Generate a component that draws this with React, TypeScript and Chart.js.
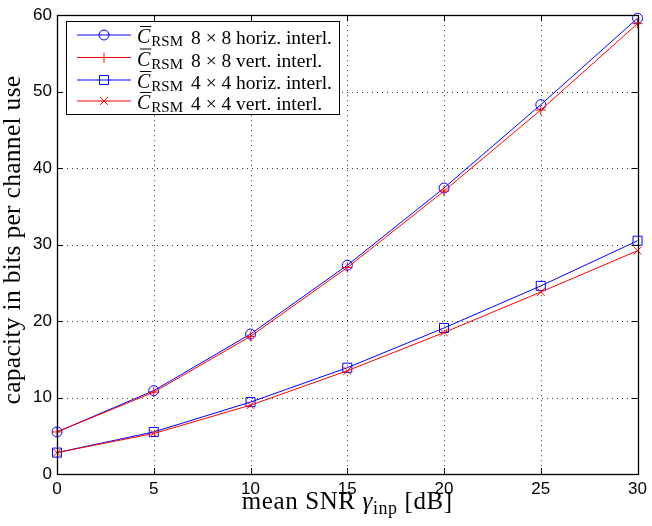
import React, { useEffect, useRef } from "react";
import { Chart, registerables } from "chart.js";

Chart.register(...registerables);

// ---- data ----
const snrDb = [0, 5, 10, 15, 20, 25, 30];
const rsm8Horiz = [5.5, 10.9, 18.3, 27.3, 37.4, 48.3, 59.6];
const rsm8Vert = [5.5, 10.7, 18.0, 27.0, 37.0, 47.6, 58.9];
const rsm4Horiz = [2.8, 5.5, 9.4, 13.9, 19.1, 24.6, 30.5];
const rsm4Vert = [2.8, 5.3, 9.0, 13.5, 18.5, 23.8, 29.2];
const xTicks = [0, 5, 10, 15, 20, 25, 30];
const yTicks = [0, 10, 20, 30, 40, 50, 60];
const legendTexts = [
  "8 × 8 horiz. interl.",
  "8 × 8 vert. interl.",
  "4 × 4 horiz. interl.",
  "4 × 4 vert. interl.",
];
const xTitleParts = ["mean SNR ", "γ", "inp", " [dB]"];
const yTitle = "capacity in bits per channel use";
const legendSymbol = "C";
const legendSub = "RSM";

const BLUE = "#0000ff";
const RED = "#ff0000";
const SERIF = '"Liberation Serif", "Times New Roman", serif';
const SANS = '"Liberation Sans", Arial, sans-serif';

type Marker = "circle" | "plus" | "square" | "x";

function drawMarker(ctx: CanvasRenderingContext2D, m: Marker, x: number, y: number, color: string) {
  ctx.save();
  ctx.strokeStyle = color;
  ctx.lineWidth = 1;
  ctx.beginPath();
  if (m === "circle") {
    ctx.arc(x, y, 5, 0, Math.PI * 2);
  } else if (m === "plus") {
    ctx.moveTo(x - 5, y);
    ctx.lineTo(x + 5, y);
    ctx.moveTo(x, y - 5);
    ctx.lineTo(x, y + 5);
  } else if (m === "square") {
    ctx.rect(x - 4.5, y - 4.5, 9, 9);
  } else {
    ctx.moveTo(x - 3.9, y - 3.9);
    ctx.lineTo(x + 3.9, y + 3.9);
    ctx.moveTo(x - 3.9, y + 3.9);
    ctx.lineTo(x + 3.9, y - 3.9);
  }
  ctx.stroke();
  ctx.restore();
}

const legendItems: { color: string; marker: Marker; text: string }[] = [
  { color: BLUE, marker: "circle", text: legendTexts[0] },
  { color: RED, marker: "plus", text: legendTexts[1] },
  { color: BLUE, marker: "square", text: legendTexts[2] },
  { color: RED, marker: "x", text: legendTexts[3] },
];

const decor = {
  id: "decor",
  beforeDatasetsDraw(chart: any) {
    const { ctx, chartArea: a, scales } = chart;
    ctx.save();
    ctx.strokeStyle = "#333";
    ctx.lineWidth = 1;
    ctx.setLineDash([1, 4]);
    for (const v of xTicks) {
      const px = Math.round(scales.x.getPixelForValue(v)) + 0.5;
      ctx.beginPath();
      ctx.moveTo(px, a.top);
      ctx.lineTo(px, a.bottom);
      ctx.stroke();
    }
    for (const v of yTicks) {
      const py = Math.round(scales.y.getPixelForValue(v)) + 0.5;
      ctx.beginPath();
      ctx.moveTo(a.left, py);
      ctx.lineTo(a.right, py);
      ctx.stroke();
    }
    ctx.restore();
  },
  afterDraw(chart: any) {
    const { ctx, chartArea: a, scales } = chart;
    ctx.save();
    // frame
    ctx.strokeStyle = "#000";
    ctx.lineWidth = 1.3;
    ctx.strokeRect(Math.round(a.left) + 0.5, Math.round(a.top) + 0.5, Math.round(a.right - a.left), Math.round(a.bottom - a.top));
    // inner ticks
    ctx.lineWidth = 1;
    for (const v of xTicks) {
      const px = Math.round(scales.x.getPixelForValue(v)) + 0.5;
      ctx.beginPath();
      ctx.moveTo(px, a.bottom);
      ctx.lineTo(px, a.bottom - 6);
      ctx.moveTo(px, a.top);
      ctx.lineTo(px, a.top + 6);
      ctx.stroke();
    }
    for (const v of yTicks) {
      const py = Math.round(scales.y.getPixelForValue(v)) + 0.5;
      ctx.beginPath();
      ctx.moveTo(a.left, py);
      ctx.lineTo(a.left + 6, py);
      ctx.moveTo(a.right, py);
      ctx.lineTo(a.right - 6, py);
      ctx.stroke();
    }

    // legend
    const mainFont = `19.5px ${SERIF}`;
    ctx.font = mainFont;
    const maxText = Math.max(...legendItems.map((it) => ctx.measureText(it.text).width));
    const textX = 191;
    const bx = 66.5, by = 21.5, bh = 93;
    const bw = Math.round(textX + maxText + 8 - bx);
    ctx.fillStyle = "#fff";
    ctx.fillRect(bx, by, bw, bh);
    ctx.strokeStyle = "#000";
    ctx.lineWidth = 1;
    ctx.strokeRect(bx, by, bw, bh);
    const rows = [35, 57.5, 80, 101];
    legendItems.forEach((it, i) => {
      const y = rows[i];
      ctx.strokeStyle = it.color;
      ctx.lineWidth = 1;
      ctx.beginPath();
      ctx.moveTo(77, y);
      ctx.lineTo(131, y);
      ctx.stroke();
      drawMarker(ctx, it.marker, 104, y, it.color);
      const base = y + 9;
      let x = 137;
      ctx.fillStyle = "#000";
      ctx.textBaseline = "alphabetic";
      ctx.textAlign = "left";
      ctx.font = `italic 20px ${SERIF}`;
      ctx.fillText(legendSymbol, x, base - 1);
      const cw = ctx.measureText(legendSymbol).width;
      // bar over C
      ctx.strokeStyle = "#000";
      ctx.lineWidth = 1;
      ctx.beginPath();
      ctx.moveTo(x + 3, base - 17.5);
      ctx.lineTo(x + cw + 1, base - 17.5);
      ctx.stroke();
      x += cw + 1;
      ctx.font = `15px ${SERIF}`;
      ctx.fillText(legendSub, x, base + 2);
      ctx.font = mainFont;
      ctx.fillText(it.text, textX, base);
    });

    // x title
    const cx = (a.left + a.right) / 2;
    const fonts = [`25px ${SERIF}`, `italic 25px ${SERIF}`, `18px ${SERIF}`, `25px ${SERIF}`];
    const offs = [0, 0, 5, 0];
    (ctx as any).letterSpacing = "0.6px";
    const widths = xTitleParts.map((t, i) => {
      ctx.font = fonts[i];
      return ctx.measureText(t).width;
    });
    const total = widths.reduce((s, w) => s + w, 0);
    let tx = cx - total / 2;
    ctx.fillStyle = "#000";
    ctx.textAlign = "left";
    ctx.textBaseline = "alphabetic";
    xTitleParts.forEach((t, i) => {
      ctx.font = fonts[i];
      ctx.fillText(t, tx, 509 + offs[i]);
      tx += widths[i];
    });

    // y title
    ctx.save();
    (ctx as any).letterSpacing = "0.3px";
    ctx.translate(20, 240);
    ctx.rotate(-Math.PI / 2);
    ctx.font = `25.5px ${SERIF}`;
    ctx.textAlign = "center";
    ctx.fillText(yTitle, 0, 0);
    ctx.restore();
    (ctx as any).letterSpacing = "0px";

    ctx.restore();
  },
};

export default function App() {
  const ref = useRef<HTMLCanvasElement>(null);
  useEffect(() => {
    const canvas = ref.current;
    if (!canvas) return;
    const mk = (vals: number[]) => snrDb.map((x, i) => ({ x, y: vals[i] }));
    const common = {
      borderWidth: 1,
      pointBackgroundColor: "rgba(0,0,0,0)",
      pointBorderWidth: 1,
      pointHoverRadius: 0,
      tension: 0,
      fill: false,
      clip: false as const,
    };
    const chart = new Chart(canvas, {
      type: "line",
      data: {
        datasets: [
          { ...common, label: "8x8 horiz", data: mk(rsm8Horiz), borderColor: BLUE, pointBorderColor: BLUE, pointStyle: "circle", pointRadius: 5, order: 3 },
          { ...common, label: "8x8 vert", data: mk(rsm8Vert), borderColor: RED, pointBorderColor: RED, pointStyle: "cross", pointRadius: 5, order: 2 },
          { ...common, label: "4x4 horiz", data: mk(rsm4Horiz), borderColor: BLUE, pointBorderColor: BLUE, pointStyle: "rect", pointRadius: 6.4, order: 1 },
          { ...common, label: "4x4 vert", data: mk(rsm4Vert), borderColor: RED, pointBorderColor: RED, pointStyle: "crossRot", pointRadius: 5.5, order: 0 },
        ] as any,
      },
      options: {
        responsive: false,
        animation: false,
        devicePixelRatio: 1,
        events: [],
        layout: { padding: { top: 13, right: 10, left: 0, bottom: 0 } },
        plugins: { legend: { display: false }, tooltip: { enabled: false }, title: { display: false } },
        scales: {
          x: {
            type: "linear",
            min: 0,
            max: 30,
            afterFit: (s: any) => { s.height = 52; },
            afterBuildTicks: (s: any) => { s.ticks = xTicks.map((v) => ({ value: v })); },
            grid: { display: false, drawTicks: false },
            border: { display: false },
            ticks: { color: "#000", padding: 5, font: { family: SANS, size: 17 }, maxRotation: 0 },
          },
          y: {
            type: "linear",
            min: 0,
            max: 60,
            afterFit: (s: any) => { s.width = 57; },
            afterBuildTicks: (s: any) => { s.ticks = yTicks.map((v) => ({ value: v })); },
            grid: { display: false, drawTicks: false },
            border: { display: false },
            ticks: { color: "#000", padding: 5, font: { family: SANS, size: 17 } },
          },
        },
      } as any,
      plugins: [decor],
    });
    return () => chart.destroy();
  }, []);
  return (
    <div style={{ position: "fixed", left: 0, top: 0, width: 652, height: 526, background: "#fff" }}>
      <canvas ref={ref} width={652} height={526} style={{ display: "block", width: 652, height: 526 }} />
    </div>
  );
}
